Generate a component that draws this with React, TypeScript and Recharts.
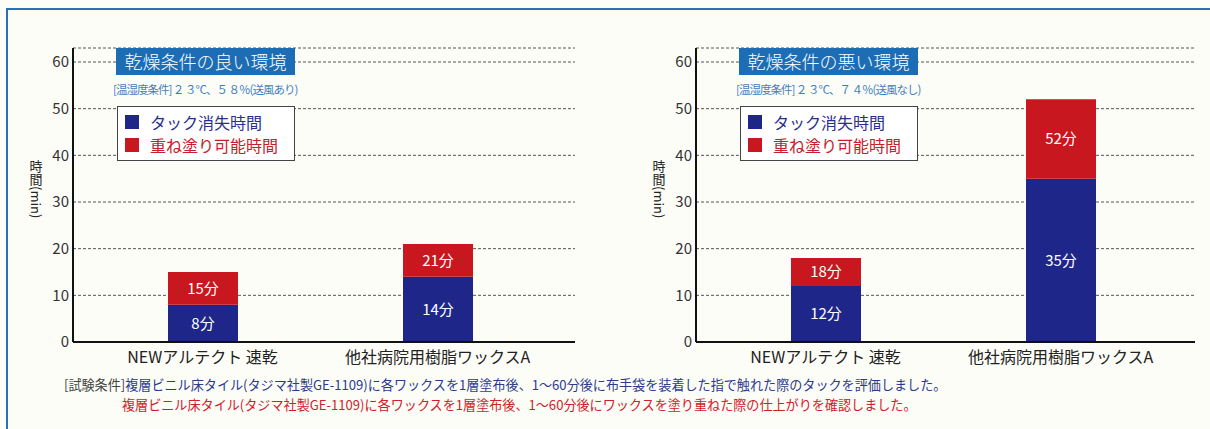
import React from "react";
import { Bar, BarChart, CartesianGrid, LabelList, XAxis, YAxis } from "recharts";

const categories = ["NEWアルテクト 速乾", "他社病院用樹脂ワックスA"];
const goodTack = [8, 14];
const goodRecoat = [15, 21];
const poorTack = [12, 35];
const poorRecoat = [18, 52];
const yTicks = [0, 10, 20, 30, 40, 50, 60];

const NAVY = "#1e2789";
const RED = "#c8171f";
const TITLE_BLUE = "#1d6db5";
const FONT = "'Noto Sans CJK JP', 'Noto Sans', sans-serif";

const buildRows = (tack: number[], recoat: number[]) =>
  categories.map((name, i) => ({
    name,
    tack: tack[i],
    recoat: recoat[i],
    gap: recoat[i] - tack[i],
  }));

const YLabel = () => (
  <text
    x={36}
    y={160}
    fill="#222"
    fontSize={13}
    style={{ writingMode: "vertical-rl" } as any}
  >
    時間(min)
  </text>
);

interface PanelProps {
  left: number;
  rightMargin: number;
  padding: { left: number; right: number };
  title: string;
  condition: string;
  tack: number[];
  recoat: number[];
}

const Panel = ({ left, rightMargin, padding, title, condition, tack, recoat }: PanelProps) => {
  const rows = buildRows(tack, recoat);
  return (
    <div style={{ position: "absolute", left, top: 0, width: 600, height: 380 }}>
      <BarChart
        width={600}
        height={380}
        data={rows}
        margin={{ top: 48, right: rightMargin, bottom: 0, left: 0 }}
      >
        <CartesianGrid vertical={false} stroke="#555" strokeDasharray="3 2" />
        <XAxis
          dataKey="name"
          height={38}
          padding={padding}
          axisLine={{ stroke: "#111", strokeWidth: 2 }}
          tickLine={false}
          tickSize={0}
          tickMargin={10}
          tick={{ fill: "#222", fontSize: 16 }}
          interval={0}
        />
        <YAxis
          width={73}
          domain={[0, 63]}
          ticks={yTicks}
          allowDataOverflow
          axisLine={{ stroke: "#111", strokeWidth: 2 }}
          tickLine={false}
          tickSize={0}
          tickMargin={4}
          tick={{ fill: "#333", fontSize: 15 }}
          label={{ content: <YLabel /> }}
        />
        <Bar dataKey="tack" stackId="s" fill={NAVY} barSize={70} isAnimationActive={false}>
          <LabelList
            dataKey="tack"
            position="center"
            formatter={(v: any) => `${v}分`}
            fill="#fff"
            fontSize={15}
          />
        </Bar>
        <Bar dataKey="gap" stackId="s" fill={RED} barSize={70} isAnimationActive={false}>
          <LabelList
            dataKey="recoat"
            position="center"
            formatter={(v: any) => `${v}分`}
            fill="#fff"
            fontSize={15}
          />
        </Bar>
      </BarChart>

      <div
        style={{
          position: "absolute",
          left: 116,
          top: 48,
          width: 179,
          height: 27,
          background: TITLE_BLUE,
          color: "#fff",
          fontSize: 18,
          fontWeight: 300,
          lineHeight: "27px",
          textAlign: "center",
        }}
      >
        {title}
      </div>
      <div
        style={{
          position: "absolute",
          left: 113,
          top: 81,
          fontSize: 11.5,
          letterSpacing: -1,
          lineHeight: "16px",
          color: "#3f7fc1",
          whiteSpace: "nowrap",
        }}
      >
        {condition}
      </div>
      <div
        style={{
          position: "absolute",
          left: 117,
          top: 106,
          width: 176,
          height: 53,
          background: "#fff",
          border: "1px solid #444",
          fontSize: 16,
        }}
      >
        {[
          { label: "タック消失時間", color: NAVY, text: "#2a2e8c" },
          { label: "重ね塗り可能時間", color: RED, text: "#c8202a" },
        ].map((item, i) => (
          <div
            key={item.label}
            style={{
              position: "absolute",
              left: 7,
              top: 4 + i * 23,
              height: 22,
              display: "flex",
              alignItems: "center",
              whiteSpace: "nowrap",
            }}
          >
            <span
              style={{
                display: "inline-block",
                width: 14,
                height: 14,
                background: item.color,
                marginRight: 11,
              }}
            />
            <span style={{ color: item.text }}>{item.label}</span>
          </div>
        ))}
      </div>
    </div>
  );
};

export default function App() {
  return (
    <div
      style={{
        position: "absolute",
        left: 0,
        top: 0,
        width: 1210,
        height: 429,
        background: "#fdfdf8",
        fontFamily: FONT,
        overflow: "hidden",
      }}
    >
      <div
        style={{
          position: "absolute",
          left: 6,
          top: 8,
          width: 1204,
          height: 421,
          borderTop: "2px solid #2a72b8",
          borderLeft: "2px solid #2a72b8",
        }}
      />
      <Panel
        left={0}
        rightMargin={25}
        padding={{ left: 12, right: 20 }}
        title="乾燥条件の良い環境"
        condition="[温湿度条件] ２ ３℃、５ ８％(送風あり)"
        tack={goodTack}
        recoat={goodRecoat}
      />
      <Panel
        left={623}
        rightMargin={28}
        padding={{ left: 12, right: 17 }}
        title="乾燥条件の悪い環境"
        condition="[温湿度条件] ２ ３℃、７ ４％(送風なし)"
        tack={poorTack}
        recoat={poorRecoat}
      />
      <div
        style={{
          position: "absolute",
          left: 64,
          top: 376,
          fontSize: 13.1,
          lineHeight: "18px",
          whiteSpace: "nowrap",
          color: "#2c3a8c",
        }}
      >
        <span style={{ color: "#444" }}>[試験条件]</span>
        複層ビニル床タイル(タジマ社製GE-1109)に各ワックスを1層塗布後、1～60分後に布手袋を装着した指で触れた際のタックを評価しました。
      </div>
      <div
        style={{
          position: "absolute",
          left: 122,
          top: 396,
          fontSize: 13.1,
          lineHeight: "18px",
          whiteSpace: "nowrap",
          color: "#d0202a",
        }}
      >
        複層ビニル床タイル(タジマ社製GE-1109)に各ワックスを1層塗布後、1～60分後にワックスを塗り重ねた際の仕上がりを確認しました。
      </div>
    </div>
  );
}
